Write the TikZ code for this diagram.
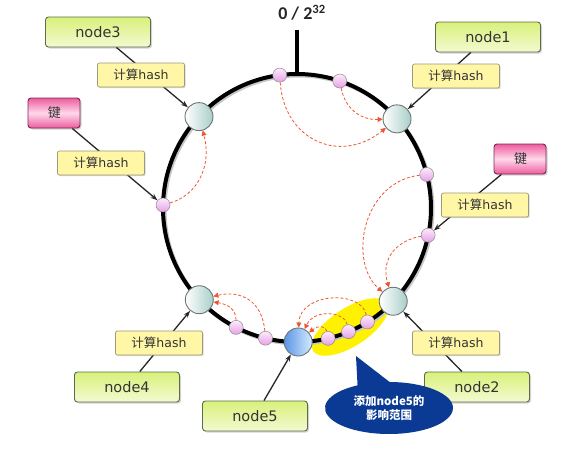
\documentclass[tikz,border=0pt]{standalone}
\usepackage{fontspec}
\setmainfont{DejaVu Sans}
\newfontfamily\cjk{Noto Sans CJK SC}
\newfontfamily\calib{Carlito}
\usetikzlibrary{arrows.meta,shapes.geometric,shapes.callouts,shadows,calc}
\definecolor{gtop}{HTML}{D9F07A}
\definecolor{gbot}{HTML}{F3FAD2}
\definecolor{gborder}{HTML}{5E6B4A}
\definecolor{hashfill}{HTML}{FFF6A6}
\definecolor{hashborder}{HTML}{9C9A78}
\definecolor{kdark}{HTML}{EC5C9E}
\definecolor{klight}{HTML}{FFD8EA}
\definecolor{kborder}{HTML}{7A2A4E}
\definecolor{ringteal}{HTML}{A8CEC9}
\definecolor{ringborder}{HTML}{6E7474}
\definecolor{bluel}{HTML}{5A95E6}
\definecolor{bluer}{HTML}{D6EBFF}
\definecolor{dottop}{HTML}{FDEBFD}
\definecolor{dotbot}{HTML}{E6A0E6}
\definecolor{redc}{HTML}{EE5533}
\definecolor{hl}{HTML}{FFF200}
\definecolor{calloutblue}{HTML}{0A3A94}
\begin{document}
\begin{tikzpicture}[x=1pt,y=-1pt,
  nodebox/.style={rectangle, rounded corners=3pt, draw=gborder, line width=0.9pt,
    top color=gtop, bottom color=gbot, minimum width=105pt, minimum height=30pt,
    inner sep=0pt, font=\fontsize{14.5}{16}\selectfont, text=black!80,
    drop shadow={opacity=0.35, shadow xshift=1.5pt, shadow yshift=-1.5pt}},
  keybox/.style={rectangle, rounded corners=3pt, draw=kborder, line width=0.9pt,
    top color=kdark, bottom color=kdark, middle color=klight, minimum width=52pt,
    minimum height=30pt, inner sep=0pt, font=\fontsize{13}{15}\selectfont, text=black!80,
    drop shadow={opacity=0.35, shadow xshift=1.5pt, shadow yshift=-1.5pt}},
  hashbox/.style={rectangle, rounded corners=2pt, draw=hashborder, line width=0.7pt,
    fill=hashfill, minimum width=87pt, minimum height=24pt, inner sep=0pt,
    font=\fontsize{12.5}{14}\selectfont, text=black!80,
    drop shadow={opacity=0.3, shadow xshift=1.2pt, shadow yshift=-1.2pt}},
  ringnode/.style={circle, minimum size=28pt, inner sep=0pt, draw=ringborder, line width=0.9pt,
    left color=white, right color=ringteal},
  dot/.style={circle, minimum size=14pt, inner sep=0pt, draw=black!45, line width=0.5pt,
    top color=dottop, bottom color=dotbot},
  conn/.style={-{Stealth[length=7pt,width=5pt]}, line width=1.3pt, black!85},
  redarr/.style={-{Triangle[length=5pt,width=5pt]}, draw=redc, line width=0.8pt,
    dash pattern=on 3pt off 2pt}
]
\useasboundingbox (0,0) rectangle (566,455);
\coordinate (C) at (297,208);

% highlight of the node5 range
\fill[hl, rotate around={33:(350,327)}] (350,327) ellipse[x radius=44pt, y radius=19pt];

% ring
\draw[line width=4pt, black!22] ($(C)+(1.5,1.5)$) circle[radius=134pt];
\draw[line width=4pt] (C) circle[radius=134pt];
\coordinate (tickTop) at (297,30);
\coordinate (tickBase) at (297,75);
\draw[line width=4pt] (tickTop) -- (tickBase);
\node[font=\calib\bfseries\fontsize{18}{20}\selectfont, text=black!85] (zero) at (302,13) {0 / 2\textsuperscript{32}};

% server nodes on the ring
\node[ringnode] (n3) at ($(C)+(-137:134)$) {};
\node[ringnode] (n1) at ($(C)+(-41.7:134)$) {};
\node[ringnode] (n4) at ($(C)+(-223.2:134)$) {};
\node[ringnode] (n2) at ($(C)+(-315.9:134)$) {};
\node[ringnode, left color=bluel, right color=bluer] (n5) at ($(C)+(-270.5:134)$) {};

% key dots on the ring
\node[dot] (dT1) at ($(C)+(-97.4:134)$) {};
\node[dot] (dT2) at ($(C)+(-71.4:134)$) {};
\node[dot] (dL)  at ($(C)+(-178.7:134)$) {};
\node[dot] (dR1) at ($(C)+(-14.5:134)$) {};
\node[dot] (dR2) at ($(C)+(11.7:134)$) {};
\node[dot] (dB1) at ($(C)+(-243:134)$) {};
\node[dot] (dB2) at ($(C)+(-256.4:134)$) {};
\node[dot] (dY1) at ($(C)+(-283.4:134)$) {};
\node[dot] (dY2) at ($(C)+(-292.6:134)$) {};
\node[dot] (dY3) at ($(C)+(-301.7:134)$) {};

% red dashed mapping arrows
\draw[redarr] (dT1) .. controls (284,140) and (340,165) .. (n1);
\draw[redarr] (dT2) .. controls (345,108) and (360,120) .. (n1);
\draw[redarr] (dL) .. controls (198,195) and (212,165) .. (n3);
\draw[redarr] (dR1) .. controls (362,182) and (348,262) .. (n2);
\draw[redarr] (dR2) .. controls (398,240) and (380,258) .. (n2);
\draw[redarr] (dB1) .. controls (236,308) and (226,304) .. (n4);
\draw[redarr] (dB2) .. controls (262,300) and (240,290) .. (n4);
\draw[redarr] (dY3) .. controls (362,290) and (300,292) .. (n5);
\draw[redarr] (dY2) .. controls (345,312) and (315,308) .. (n5);
\draw[redarr] (dY1) .. controls (326,326) and (318,325) .. (n5);

% label boxes
\node[nodebox] (b3) at (98,32) {node3};
\node[nodebox] (b1) at (488,37) {node1};
\node[nodebox] (b4) at (127,387) {node4};
\node[nodebox] (b2) at (477,387) {node2};
\node[nodebox] (b5) at (255,416) {node5};
\node[keybox] (kL) at (54,113) {\makebox[13pt][l]{\hspace*{0.5pt}\cjk 键}};
\node[keybox] (kR) at (520,159) {\makebox[13pt][l]{\hspace*{0.5pt}\cjk 键}};

% hash connectors
\draw[conn] (b3) -- (n3);
\draw[conn] (b1) -- (n1);
\draw[conn] (b4) -- (n4);
\draw[conn] (b2) -- (n2);
\draw[conn] (b5) -- (n5);
\draw[conn] (kL) -- (dL);
\draw[conn] (kR) -- (dR2);

\node[hashbox] (h3) at (141,75) {{\cjk 计算}hash};
\node[hashbox] (h1) at (456,76) {{\cjk 计算}hash};
\node[hashbox] (hL) at (101,163) {{\cjk 计算}hash};
\node[hashbox] (hR) at (485,205) {{\cjk 计算}hash};
\node[hashbox] (h4) at (159,343) {{\cjk 计算}hash};
\node[hashbox] (h2) at (456,343) {{\cjk 计算}hash};

% callout
\node[ellipse callout, fill=calloutblue, text=white, minimum width=128pt, minimum height=52pt,
  inner sep=0pt, align=center, callout absolute pointer={(356,356)}, callout pointer arc=30,
  font=\cjk\bfseries\fontsize{11.5}{14}\selectfont] (co) at (389,408) {添加node5的\\影响范围};
\end{tikzpicture}
\end{document}
